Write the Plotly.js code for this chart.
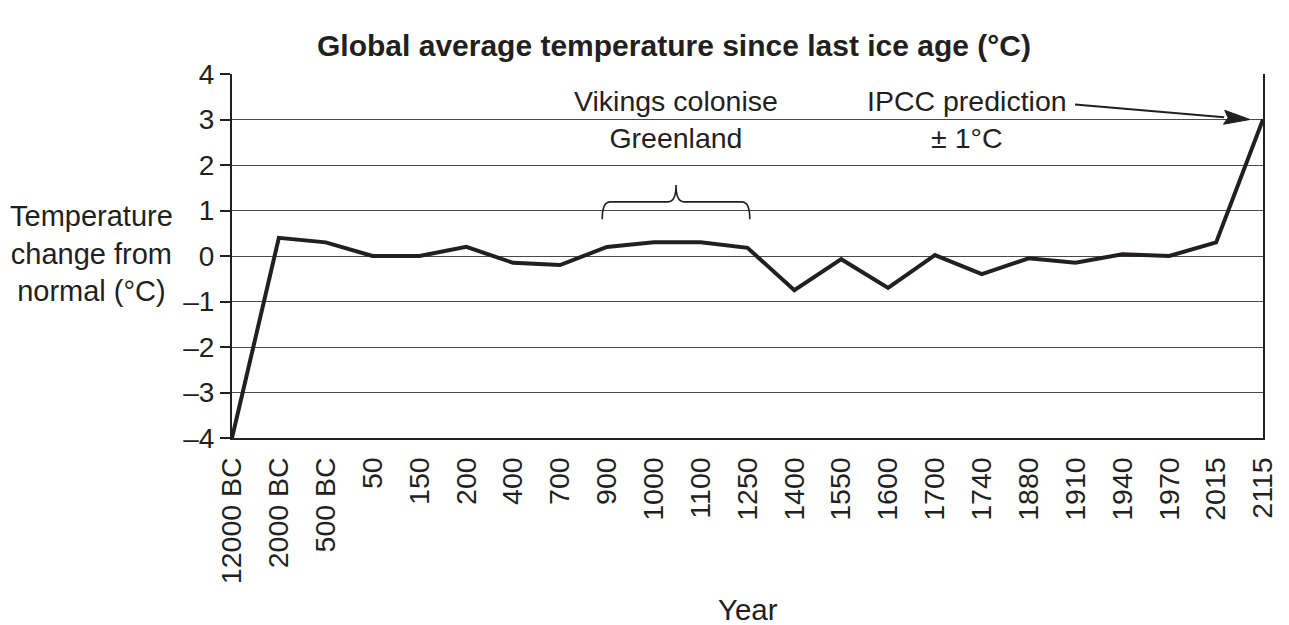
<!DOCTYPE html>
<html>
<head>
<meta charset="utf-8">
<script src="https://cdn.plot.ly/plotly-3.0.1.min.js"></script>
<style>
  html, body { margin: 0; padding: 0; background: #fff; }
  #chart { width: 1289px; height: 625px; }
</style>
</head>
<body>
<div id="chart"></div>
<script>
// ---- data ----
const years = ['12000 BC','2000 BC','500 BC','50','150','200','400','700','900','1000','1100','1250','1400','1550','1600','1700','1740','1880','1910','1940','1970','2015','2115'];
const tempChange = [-4, 0.4, 0.3, 0, 0, 0.2, -0.15, -0.2, 0.2, 0.3, 0.3, 0.18, -0.75, -0.07, -0.7, 0.02, -0.4, -0.05, -0.15, 0.04, 0, 0.3, 3];
const yTicks = [-4, -3, -2, -1, 0, 1, 2, 3, 4];
const yTickLabels = ['\u20134', '\u20133', '\u20132', '\u20131', '0', '1', '2', '3', '4'];
const vikingStart = '900';
const vikingEnd = '1250';

// ---- layout geometry ----
const W = 1289, H = 625;
const M = { l: 232, r: 26, t: 74, b: 187 };
const plotW = W - M.l - M.r, plotH = H - M.t - M.b;
const nCat = years.length;
const pxPerIdx = plotW / (nCat - 1);
const pxPerUnit = plotH / (yTicks[yTicks.length - 1] - yTicks[0]);
const ink = '#231f20';
const font = '"Liberation Sans", Arial, Helvetica, sans-serif';

// brace over the Viking period
const i0 = years.indexOf(vikingStart) - 0.1;
const i1 = years.indexOf(vikingEnd) + 0.05;
const im = (i0 + i1) / 2;
const yb = 0.81, yh = 1.19, yt = 1.56;
const cx = 8 / pxPerIdx;          // corner radius in index units
const bracePath =
  `M ${i0},${yb} Q ${i0},${yh} ${i0 + cx},${yh} L ${im - cx},${yh} Q ${im},${yh} ${im},${yt}` +
  ` Q ${im},${yh} ${im + cx},${yh} L ${i1 - cx},${yh} Q ${i1},${yh} ${i1},${yb}`;

// arrow pointing at the final (prediction) point, built from pixel offsets
const lastIdx = nCat - 1, lastVal = tempChange[nCat - 1];
function pt(dx, dy) { return [lastIdx + dx / pxPerIdx, lastVal - dy / pxPerUnit]; }
const aStart = pt(-188, -15), aTip = pt(-13, 0);
const ux = 175 / Math.hypot(175, 15), uy = 15 / Math.hypot(175, 15);
const headLen = 26, headHalf = 7;
const bx = -13 - ux * headLen, by = 0 - uy * headLen;
const hb = pt(bx, by);
const hL = pt(bx - uy * headHalf, by + ux * headHalf);
const hR = pt(bx + uy * headHalf, by - ux * headHalf);
const hN = pt(bx + ux * 4, by + uy * 4);
const headPath = `M ${aTip[0]},${aTip[1]} L ${hL[0]},${hL[1]} L ${hN[0]},${hN[1]} L ${hR[0]},${hR[1]} Z`;

const trace = {
  x: years,
  y: tempChange,
  type: 'scatter',
  mode: 'lines',
  line: { color: ink, width: 4 },
  hoverinfo: 'x+y'
};

const layout = {
  width: W, height: H,
  margin: M,
  paper_bgcolor: '#ffffff',
  plot_bgcolor: '#ffffff',
  showlegend: false,
  font: { family: font, color: ink, size: 28 },
  title: {
    text: '<b>Global average temperature since last ice age (°C)</b>',
    font: { family: font, size: 30, color: ink },
    xref: 'container', x: 674 / W, xanchor: 'center',
    yref: 'container', y: 1 - 45 / H, yanchor: 'middle'
  },
  xaxis: {
    type: 'category',
    range: [0, nCat - 1],
    tickangle: -90,
    tickfont: { family: font, size: 28.5, color: ink },
    showgrid: false,
    showline: true, linecolor: ink, linewidth: 2,
    mirror: false,
    ticks: '',
    ticklabelstandoff: 6,
    zeroline: false,
    fixedrange: true
  },
  yaxis: {
    range: [yTicks[0], yTicks[yTicks.length - 1]],
    tickmode: 'array',
    tickvals: yTicks,
    ticktext: yTickLabels,
    tickfont: { family: font, size: 28, color: ink },
    ticks: 'outside', ticklen: 10, tickwidth: 2, tickcolor: ink,
    showline: true, linecolor: ink, linewidth: 2,
    mirror: true,
    showgrid: true, gridcolor: '#4a4a4a', gridwidth: 1,
    zeroline: false,
    fixedrange: true
  },
  shapes: [
    { type: 'path', xref: 'x', yref: 'y', path: bracePath, line: { color: ink, width: 1.6 } },
    { type: 'line', xref: 'x', yref: 'y', x0: aStart[0], y0: aStart[1], x1: hb[0], y1: hb[1], line: { color: ink, width: 2 } },
    { type: 'path', xref: 'x', yref: 'y', path: headPath, fillcolor: ink, line: { color: ink, width: 1 } }
  ],
  annotations: [
    {
      text: 'Temperature<br>change from<br>normal (°C)',
      xref: 'paper', yref: 'paper',
      x: (91 - M.l) / plotW, y: (M.t + plotH - 253) / plotH,
      xanchor: 'center', yanchor: 'middle',
      showarrow: false, align: 'center',
      font: { family: font, size: 29, color: ink }
    },
    {
      text: 'Year',
      xref: 'paper', yref: 'paper',
      x: (748 - M.l) / plotW, y: (M.t + plotH - 609) / plotH,
      xanchor: 'center', yanchor: 'middle',
      showarrow: false,
      font: { family: font, size: 29.5, color: ink }
    },
    {
      text: 'Vikings colonise<br>Greenland',
      xref: 'x', yref: 'y',
      x: im, y: 3,
      xanchor: 'center', yanchor: 'middle',
      showarrow: false, align: 'center',
      font: { family: font, size: 28.5, color: ink }
    },
    {
      text: 'IPCC prediction<br>± 1°C',
      xref: 'x', yref: 'y',
      x: (967 - M.l) / pxPerIdx, y: 3,
      xanchor: 'center', yanchor: 'middle',
      showarrow: false, align: 'center',
      font: { family: font, size: 28.5, color: ink }
    }
  ]
};

Plotly.newPlot('chart', [trace], layout, { displayModeBar: false, staticPlot: true });
</script>
</body>
</html>
